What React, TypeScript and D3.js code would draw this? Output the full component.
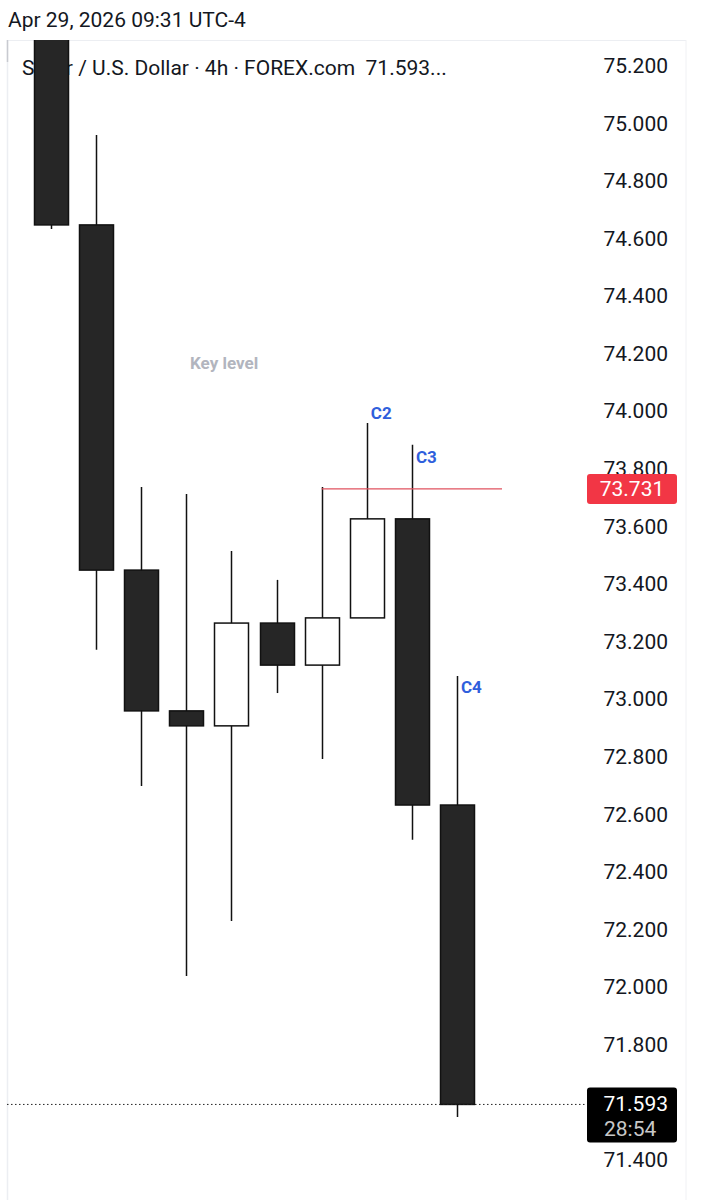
import React from "react";
import * as d3 from "d3";

const candleOpen = [75.6, 74.648, 73.449, 72.96, 72.908, 73.265, 73.119, 73.283, 73.627, 72.633];
const candleHigh = [75.8, 74.96, 73.738, 73.713, 73.515, 73.415, 73.738, 73.96, 73.884, 73.081];
const candleLow = [74.634, 73.172, 72.699, 72.039, 72.23, 73.022, 72.793, 73.283, 72.512, 71.549];
const candleClose = [74.648, 73.449, 72.96, 72.908, 73.265, 73.119, 73.283, 73.627, 72.633, 71.593];

const tickValues = [75.2, 75.0, 74.8, 74.6, 74.4, 74.2, 74.0, 73.8, 73.6, 73.4, 73.2, 73.0, 72.8, 72.6, 72.4, 72.2, 72.0, 71.8, 71.6, 71.4];
const keyLevel = 73.731;
const lastPrice = 71.593;
const countdown = "28:54";
const annotations = [
  { label: "C2", index: 7, price: 73.974 },
  { label: "C3", index: 8, price: 73.821 },
  { label: "C4", index: 9, price: 73.022 },
];

export default function App() {
  const W = 703;
  const H = 1200;
  const y = d3.scaleLinear().domain([75.2, 71.4]).range([66, 1160]);
  const x = d3.scaleLinear().domain([0, 9]).range([51, 457]);
  const bodyW = 34;
  const font = "Roboto, 'Noto Sans', sans-serif";
  const fmt = d3.format(".3f");
  const paneTop = 40;
  const paneLeft = 7;
  const paneRight = 590;

  return (
    <div style={{ position: "absolute", left: 0, top: 0, width: W, height: H, background: "#fff" }}>
      <svg width={W} height={H} style={{ display: "block" }}>
        <defs>
          <clipPath id="pane">
            <rect x={paneLeft} y={paneTop} width={paneRight - paneLeft} height={H - paneTop} />
          </clipPath>
        </defs>
        <rect x={0} y={0} width={W} height={H} fill="#fff" />
        {/* header */}
        <text x={8} y={27} fontFamily={font} fontSize={21} fill="#131722">Apr 29, 2026 09:31 UTC-4</text>
        {/* frame */}
        <line x1={paneLeft} x2={686} y1={paneTop + 0.5} y2={paneTop + 0.5} stroke="#eceef2" strokeWidth={1} />
        <line x1={paneLeft + 0.5} x2={paneLeft + 0.5} y1={paneTop} y2={H} stroke="#eceef2" strokeWidth={1.5} />
        <line x1={paneLeft + 0.5} x2={paneLeft + 0.5} y1={paneTop} y2={62} stroke="#c8cad0" strokeWidth={1.5} />
        <line x1={686} x2={686} y1={paneTop} y2={H} stroke="#f0f1f4" strokeWidth={1} />
        {/* legend */}
        <text x={22} y={75} fontFamily={font} fontSize={21} fill="#131722" style={{ whiteSpace: "pre" }}>{"Silver / U.S. Dollar · 4h · FOREX.com\u00a0 71.593..."}</text>
        <g clipPath="url(#pane)">
          {candleOpen.map((o, i) => {
            const c = candleClose[i];
            const bull = c > o;
            const top = y(Math.max(o, c));
            const bot = y(Math.min(o, c));
            const cx = Math.round(x(i)) + 0.5;
            return (
              <g key={i}>
                <line x1={cx} x2={cx} y1={y(candleHigh[i])} y2={y(candleLow[i])} stroke="#111" strokeWidth={1.5} />
                <rect x={cx - bodyW / 2} y={top} width={bodyW} height={Math.max(1, bot - top)} fill={bull ? "#fff" : "#262626"} stroke="#111" strokeWidth={1.5} />
              </g>
            );
          })}
          {/* key level line */}
          <line x1={x(6)} x2={502} y1={y(keyLevel)} y2={y(keyLevel)} stroke="#e0525f" strokeWidth={1.2} />
          {/* last price dotted line */}
          <line x1={paneLeft} x2={paneRight} y1={y(lastPrice)} y2={y(lastPrice)} stroke="#222" strokeWidth={1} strokeDasharray="1.5,2.5" />
        </g>
        <text x={190} y={369} fontFamily={font} fontSize={17} fontWeight={700} fill="#b2b5be">Key level</text>
        {annotations.map((a) => (
          <text key={a.label} x={x(a.index) + 4} y={y(a.price)} fontFamily={font} fontSize={17} fontWeight={700} fill="#2f5fdc">{a.label}</text>
        ))}
        {/* price axis */}
        {tickValues.map((t) => (
          <text key={t} x={668} y={y(t)} textAnchor="end" dominantBaseline="central" fontFamily={font} fontSize={21} fill="#131722">{fmt(t)}</text>
        ))}
        {/* key level tag */}
        <rect x={587} y={y(keyLevel) - 15} width={90} height={30} rx={3} fill="#f23645" />
        <text x={632} y={y(keyLevel)} textAnchor="middle" dominantBaseline="central" fontFamily={font} fontSize={21} fill="#fff">{fmt(keyLevel)}</text>
        {/* last price tag */}
        <rect x={587} y={y(lastPrice) - 17} width={90} height={55} rx={3} fill="#000" />
        <text x={668} y={y(lastPrice)} textAnchor="end" dominantBaseline="central" fontFamily={font} fontSize={21} fill="#fff">{fmt(lastPrice)}</text>
        <text x={604} y={y(lastPrice) + 25} dominantBaseline="central" fontFamily={font} fontSize={21} fill="#c8c8c8">{countdown}</text>
      </svg>
    </div>
  );
}
